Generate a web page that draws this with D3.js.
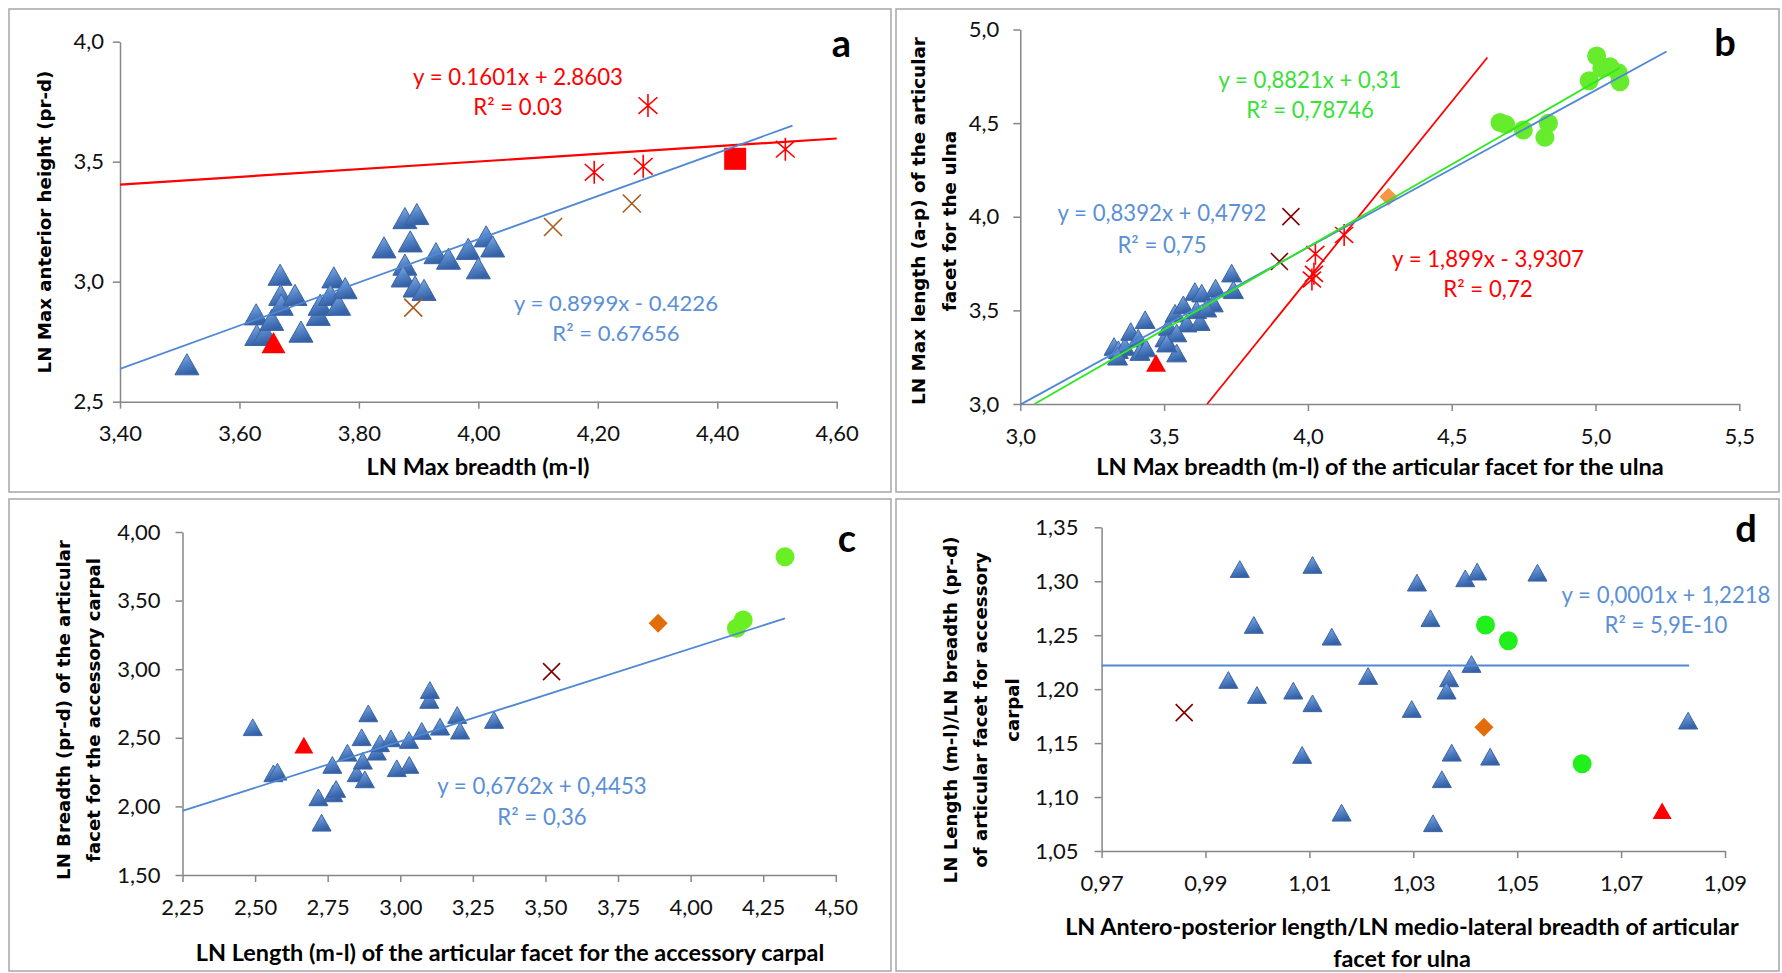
<!DOCTYPE html>
<html><head><meta charset="utf-8">
<script src="https://cdn.jsdelivr.net/npm/d3@7/dist/d3.min.js"></script>
<style>body{margin:0;background:#fff} svg{display:block}</style>
</head><body>
<script>
// ================= DATA =================
// Panel a
const aTicksX = [3.40, 3.60, 3.80, 4.00, 4.20, 4.40, 4.60];
const aTicksY = [2.5, 3.0, 3.5, 4.0];
const aTriangles = [[3.512,2.656],[3.628,2.864],[3.629,2.778],[3.643,2.785],[3.654,2.841],[3.668,3.029],[3.669,2.945],[3.670,2.904],[3.693,2.945],[3.703,2.792],[3.732,2.862],[3.735,2.904],[3.758,3.018],[3.752,2.945],[3.766,2.904],[3.777,2.973],[3.842,3.143],[3.877,3.265],[3.897,3.282],[3.886,3.168],[3.877,3.071],[3.874,3.022],[3.894,2.980],[3.909,2.966],[3.929,3.119],[3.950,3.096],[3.983,3.137],[4.000,3.056],[4.013,3.189],[4.024,3.147]];
const aRedTriangle = [[3.657,2.746]];
const aRedSquare = [[4.430,3.512]];
const aRedStars = [[4.194,3.456],[4.276,3.481],[4.284,3.734],[4.514,3.552]];
const aBrownCross = [[3.891,2.892],[4.125,3.228],[4.257,3.326]];
const aRedFit = [0.1601, 2.8603, 3.40, 4.60];   // slope, intercept, x from, x to
const aBlueFit = [0.8999, -0.4226, 3.40, 4.526];
const aRedEq = ["y = 0.1601x + 2.8603", "R² = 0.03"];
const aBlueEq = ["y = 0.8999x - 0.4226", "R² = 0.67656"];

// Panel b
const bTicksX = [3.0, 3.5, 4.0, 4.5, 5.0, 5.5];
const bTicksY = [3.0, 3.5, 4.0, 4.5, 5.0];
const bTriangles = [[3.326,3.307],[3.341,3.290],[3.364,3.307],[3.384,3.387],[3.410,3.352],[3.416,3.280],[3.434,3.450],[3.437,3.299],[3.338,3.255],[3.544,3.272],[3.503,3.352],[3.515,3.414],[3.538,3.485],[3.567,3.530],[3.607,3.601],[3.631,3.592],[3.579,3.432],[3.625,3.440],[3.613,3.503],[3.671,3.539],[3.679,3.619],[3.648,3.512],[3.735,3.699],[3.741,3.610],[3.544,3.379],[3.509,3.325]];
const bRedTriangle = [[3.472,3.219]];
const bMaroonCross = [[3.901,3.761],[3.941,4.001]];
const bRedStars = [[4.014,3.665],[4.021,3.695],[4.026,3.802],[4.126,3.903]];
const bDiamond = [[4.280,4.107]];
const bCircles = [[5.004,4.858],[4.978,4.726],[5.022,4.792],[5.050,4.801],[5.079,4.769],[5.085,4.721],[4.668,4.503],[4.688,4.492],[4.749,4.463],[4.836,4.499],[4.824,4.424]];
const bBlueFit = [0.8392, 0.4792, 3.0, 5.247];
const bGreenFit = [0.8821, 0.31, 3.0496, 5.085];
const bRedFit = [1.899, -3.9307, 3.6497, 4.624];
const bGreenEq = ["y = 0,8821x + 0,31", "R² = 0,78746"];
const bBlueEq = ["y = 0,8392x + 0,4792", "R² = 0,75"];
const bRedEq = ["y = 1,899x - 3,9307", "R² = 0,72"];

// Panel c
const cTicksX = [2.25, 2.50, 2.75, 3.00, 3.25, 3.50, 3.75, 4.00, 4.25, 4.50];
const cTicksY = [1.50, 2.00, 2.50, 3.00, 3.50, 4.00];
const cTriangles = [[2.492,2.577],[2.563,2.241],[2.577,2.253],[2.718,2.066],[2.729,1.881],[2.769,2.095],[2.779,2.127],[2.766,2.302],[2.818,2.391],[2.867,2.504],[2.850,2.241],[2.871,2.333],[2.878,2.197],[2.890,2.678],[2.919,2.399],[2.930,2.460],[2.968,2.496],[2.988,2.278],[3.031,2.302],[3.030,2.484],[3.074,2.550],[3.100,2.776],[3.102,2.848],[3.137,2.581],[3.196,2.666],[3.206,2.552],[3.323,2.630]];
const cRedTriangle = [[2.668,2.447]];
const cMaroonCross = [[3.521,2.982]];
const cDiamond = [[3.888,3.335]];
const cCircles = [[4.325,3.820],[4.181,3.359],[4.158,3.298]];
const cBlueFit = [0.6762, 0.4453, 2.25, 4.325];
const cBlueEq = ["y = 0,6762x + 0,4453", "R² = 0,36"];

// Panel d
const dTicksX = [0.97, 0.99, 1.01, 1.03, 1.05, 1.07, 1.09];
const dTicksY = [1.05, 1.10, 1.15, 1.20, 1.25, 1.30, 1.35];
const dTriangles = [[1.0106,1.3151],[1.0307,1.2987],[1.0400,1.3027],[1.0423,1.3089],[1.0539,1.3079],[1.0333,1.2657],[1.0143,1.2486],[1.0412,1.2233],[1.0213,1.2122],[1.0369,1.2100],[1.0364,1.1986],[1.0069,1.1986],[1.0106,1.1869],[1.0297,1.1816],[1.0829,1.1708],[1.0086,1.1390],[1.0374,1.1411],[1.0448,1.1374],[1.0355,1.1165],[1.0162,1.0855],[1.0338,1.0757],[0.9966,1.3113],[0.9993,1.2595],[0.9944,1.2085],[0.9999,1.1946]];
const dRedTriangle = [[1.0779,1.0873]];
const dMaroonCross = [[0.9859,1.1782]];
const dDiamond = [[1.0436,1.1647]];
const dCircles = [[1.0439,1.2595],[1.0483,1.2449],[1.0625,1.1309]];
const dBlueFit = [0.0001, 1.2218, 0.97, 1.0831];
const dBlueEq = ["y = 0,0001x + 1,2218", "R² = 5,9E-10"];

// ================= DRAW =================
const W = 1782, H = 973;
const svg = d3.select("body").append("svg").attr("width", W).attr("height", H);
const defs = svg.append("defs");
const grad = defs.append("linearGradient").attr("id", "triGrad").attr("x1", 0).attr("y1", 0).attr("x2", 0.35).attr("y2", 1);
grad.append("stop").attr("offset", "0%").attr("stop-color", "#94b8ea");
grad.append("stop").attr("offset", "55%").attr("stop-color", "#5585c8");
grad.append("stop").attr("offset", "100%").attr("stop-color", "#3561a6");

const BLUE_LINE = "#5088d4", BLUE_TXT = "#5b8fd6", RED = "#ff0000", GREEN_LINE = "#2ee81e", GREEN_TXT = "#38e038";
const fmt = (d, n) => d.toFixed(n).replace(".", ",");

function shape(type, s) {
  switch (type) {
    case "tri": return `M0,${-s * 0.44}L${s / 2},${s * 0.44}L${-s / 2},${s * 0.44}Z`;
    case "star": return `M0,${-s / 2}V${s / 2}M${-s * 0.41},${-s * 0.36}L${s * 0.41},${s * 0.36}M${-s * 0.41},${s * 0.36}L${s * 0.41},${-s * 0.36}`;
    case "cross": return `M${-s / 2},${-s / 2}L${s / 2},${s / 2}M${-s / 2},${s / 2}L${s / 2},${-s / 2}`;
    case "diamond": return `M0,${-s / 2}L${s / 2},0L0,${s / 2}L${-s / 2},0Z`;
    case "square": return `M${-s / 2},${-s / 2}H${s / 2}V${s / 2}H${-s / 2}Z`;
    case "circle": return `M${-s / 2},0A${s / 2},${s / 2} 0 1,0 ${s / 2},0A${s / 2},${s / 2} 0 1,0 ${-s / 2},0Z`;
  }
}

function markers(g, x, y, data, type, size, fill, stroke, sw) {
  g.append("g").selectAll("path").data(data).join("path")
    .attr("transform", d => `translate(${x(d[0])},${y(d[1])})`)
    .attr("d", shape(type, size))
    .attr("fill", fill || "none")
    .attr("stroke", stroke || "none")
    .attr("stroke-width", sw || 0);
}

function fitLine(g, x, y, f, color, w) {
  const [m, b, x0, x1] = f;
  g.append("line")
    .attr("x1", x(x0)).attr("y1", y(m * x0 + b))
    .attr("x2", x(x1)).attr("y2", y(m * x1 + b))
    .attr("stroke", color).attr("stroke-width", w);
}

function fitText(nodes, target) {
  const w = nodes[0].getComputedTextLength();
  const fs = parseFloat(nodes[0].getAttribute("font-size"));
  const nfs = fs * target / w;
  nodes.forEach(n => n.setAttribute("font-size", nfs));
}

function eqText(g, lines, cx, cy, gap, color, target) {
  const nodes = lines.map((t, i) => g.append("text")
    .attr("x", cx).attr("y", cy + i * gap).attr("dy", "0.36em")
    .attr("text-anchor", "middle").attr("font-family", "Lato").attr("font-size", 22)
    .attr("fill", color).text(t).node());
  fitText(nodes, target);
}

function panel(p) {
  const g = svg.append("g");
  g.append("rect").attr("x", p.frame[0]).attr("y", p.frame[1])
    .attr("width", p.frame[2] - p.frame[0]).attr("height", p.frame[3] - p.frame[1])
    .attr("fill", "#fff").attr("stroke", "#a6a6a6").attr("stroke-width", 1.5);
  const x = d3.scaleLinear().domain(p.xd).range(p.xr);
  const y = d3.scaleLinear().domain(p.yd).range(p.yr);
  const xa = g.append("g").attr("transform", `translate(0,${p.yr[0]})`)
    .call(d3.axisBottom(x).tickValues(p.xt).tickFormat(d => fmt(d, p.xf)).tickSize(7).tickSizeOuter(0).tickPadding(17));
  const ya = g.append("g").attr("transform", `translate(${p.xr[0]},0)`)
    .call(d3.axisLeft(y).tickValues(p.yt).tickFormat(d => fmt(d, p.yf)).tickSize(7).tickSizeOuter(0).tickPadding(p.ypad));
  [xa, ya].forEach(a => {
    a.select(".domain").attr("stroke", "#868686").attr("stroke-width", 1.5);
    a.selectAll(".tick line").attr("stroke", "#868686").attr("stroke-width", 1.5);
    a.selectAll("text").attr("font-family", "Lato").attr("font-size", 22).attr("fill", "#111");
  });
  // x title lines
  const xn = p.xTitle.map((t, i) => g.append("text").attr("x", p.xTitlePos[0]).attr("y", p.xTitlePos[1] + i * 31.5)
    .attr("dy", "0.36em").attr("text-anchor", "middle").attr("font-family", "Lato").attr("font-weight", 700)
    .attr("font-size", 22).attr("fill", "#000").text(t).node());
  fitText(xn, p.xTitleW);
  // y title lines
  const yn = p.yTitle.map((t, i) => g.append("text")
    .attr("transform", `translate(${p.yTitleX[i]},${p.yTitleY}) rotate(-90)`)
    .attr("dy", "0.36em").attr("text-anchor", "middle").attr("font-family", "DejaVu Sans").attr("font-weight", 700)
    .attr("font-size", 18).attr("fill", "#000").text(t).node());
  fitText(yn, p.yTitleW);
  // panel letter
  g.append("text").attr("x", p.letterPos[0]).attr("y", p.letterPos[1]).attr("text-anchor", "middle")
    .attr("font-family", "Lato").attr("font-weight", 700).attr("font-size", 38).attr("fill", "#000").text(p.letter);
  return { g, x, y };
}

// ---- panel a ----
{
  const { g, x, y } = panel({
    frame: [9, 9, 891, 492], xr: [120, 836.7], yr: [401.7, 41.7], xd: [3.4, 4.6], yd: [2.5, 4.0],
    xt: aTicksX, yt: aTicksY, xf: 2, yf: 1, ypad: 9,
    xTitle: ["LN Max breadth (m-l)"], xTitlePos: [478, 467], xTitleW: 223,
    yTitle: ["LN Max anterior height (pr-d)"], yTitleX: [44], yTitleY: 222, yTitleW: 303,
    letter: "a", letterPos: [841.5, 57]
  });
  markers(g, x, y, aTriangles, "tri", 24, "url(#triGrad)", "#3a64a4", 1);
  markers(g, x, y, aRedTriangle, "tri", 24, RED);
  markers(g, x, y, aRedSquare, "square", 22, RED);
  markers(g, x, y, aRedStars, "star", 23, "none", RED, 1.6);
  markers(g, x, y, aBrownCross, "cross", 18, "none", "#a85a1c", 1.6);
  fitLine(g, x, y, aRedFit, RED, 2.2);
  fitLine(g, x, y, aBlueFit, BLUE_LINE, 1.8);
  eqText(g, aRedEq, 518, 77, 29.5, RED, 210);
  eqText(g, aBlueEq, 616, 303.5, 29.5, BLUE_TXT, 204);
}
// ---- panel b ----
{
  const { g, x, y } = panel({
    frame: [896, 9, 1779, 492], xr: [1020.3, 1739.3], yr: [404, 29.5], xd: [3.0, 5.5], yd: [3.0, 5.0],
    xt: bTicksX, yt: bTicksY, xf: 1, yf: 1, ypad: 14,
    xTitle: ["LN Max breadth (m-l) of the articular facet for the ulna"], xTitlePos: [1380, 466.7], xTitleW: 568,
    yTitle: ["LN Max length (a-p) of the articular", "facet for the ulna"], yTitleX: [918.5, 949], yTitleY: 221, yTitleW: 368,
    letter: "b", letterPos: [1725, 56]
  });
  markers(g, x, y, bTriangles, "tri", 20, "url(#triGrad)", "#3a64a4", 1);
  markers(g, x, y, bRedTriangle, "tri", 20, RED);
  markers(g, x, y, bMaroonCross, "cross", 17, "none", "#800000", 1.6);
  markers(g, x, y, bRedStars, "star", 22, "none", RED, 1.6);
  markers(g, x, y, bDiamond, "diamond", 18, "#f79646");
  markers(g, x, y, bCircles, "circle", 19, "#66ec2c");
  fitLine(g, x, y, bRedFit, RED, 1.8);
  fitLine(g, x, y, bBlueFit, BLUE_LINE, 1.8);
  fitLine(g, x, y, bGreenFit, GREEN_LINE, 1.8);
  eqText(g, bGreenEq, 1310, 80.5, 30, GREEN_TXT, 183);
  eqText(g, bBlueEq, 1162, 213.5, 31.5, BLUE_TXT, 209);
  eqText(g, bRedEq, 1488, 258.5, 30, RED, 192);
}
// ---- panel c ----
{
  const { g, x, y } = panel({
    frame: [9, 499, 891, 971], xr: [182.5, 835.8], yr: [875, 532], xd: [2.25, 4.50], yd: [1.50, 4.00],
    xt: cTicksX, yt: cTicksY, xf: 2, yf: 2, ypad: 15,
    xTitle: ["LN Length (m-l) of the articular facet for the accessory carpal"], xTitlePos: [510, 953], xTitleW: 629,
    yTitle: ["LN Breadth (pr-d) of the articular", "facet for the accessory carpal"], yTitleX: [63, 93], yTitleY: 710, yTitleW: 340,
    letter: "c", letterPos: [847, 552]
  });
  markers(g, x, y, cTriangles, "tri", 19, "url(#triGrad)", "#3a64a4", 1);
  markers(g, x, y, cRedTriangle, "tri", 19, RED);
  markers(g, x, y, cMaroonCross, "cross", 17, "none", "#800000", 1.6);
  markers(g, x, y, cDiamond, "diamond", 19, "#e46c0a");
  markers(g, x, y, cCircles, "circle", 19, "#6aee24");
  fitLine(g, x, y, cBlueFit, BLUE_LINE, 1.8);
  eqText(g, cBlueEq, 542, 786, 30.7, BLUE_TXT, 209.5);
}
// ---- panel d ----
{
  const { g, x, y } = panel({
    frame: [896, 499, 1779, 971], xr: [1101.6, 1725], yr: [851, 527.3], xd: [0.97, 1.09], yd: [1.05, 1.35],
    xt: dTicksX, yt: dTicksY, xf: 2, yf: 2, ypad: 16,
    xTitle: ["LN Antero-posterior length/LN medio-lateral breadth of articular", "facet for ulna"], xTitlePos: [1402, 926.7], xTitleW: 674,
    yTitle: ["LN Length (m-l)/LN breadth (pr-d)", "of articular facet for accessory", "carpal"], yTitleX: [950, 980.5, 1012], yTitleY: 710, yTitleW: 347,
    letter: "d", letterPos: [1746, 542]
  });
  markers(g, x, y, dTriangles, "tri", 19, "url(#triGrad)", "#3a64a4", 1);
  markers(g, x, y, dRedTriangle, "tri", 19, RED);
  markers(g, x, y, dMaroonCross, "cross", 17, "none", "#800000", 1.6);
  markers(g, x, y, dDiamond, "diamond", 19, "#e46c0a");
  markers(g, x, y, dCircles, "circle", 19, "#22f01c");
  fitLine(g, x, y, dBlueFit, BLUE_LINE, 1.8);
  eqText(g, dBlueEq, 1666, 595, 30, BLUE_TXT, 209);
}
</script>
</body></html>
